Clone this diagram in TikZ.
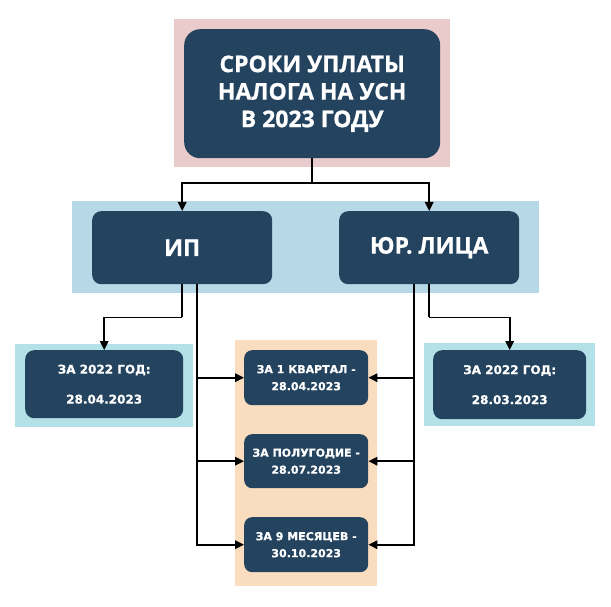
\documentclass[tikz,border=0pt]{standalone}
\usepackage{fontspec}
\setmainfont{DejaVu Sans}[BoldFeatures={FakeBold=0.6}]
\newfontfamily\titlefont{Open Sans}[BoldFeatures={FakeBold=0.8}]
\usetikzlibrary{arrows.meta,positioning}
\definecolor{boxdark}{HTML}{24435F}
\definecolor{pinkband}{HTML}{EACBCB}
\definecolor{blueband}{HTML}{B7D8E6}
\definecolor{cyanband}{HTML}{B4E0E8}
\definecolor{orangeband}{HTML}{FADDBE}
\tikzset{
  band/.style={draw=none, inner sep=0pt, anchor=north west},
  darkbox/.style={fill=boxdark, rounded corners=#1, inner sep=0pt, anchor=north west, text=white, align=center},
  darkbox/.default=9pt,
  conn/.style={draw=black, line width=1.8pt, -{Triangle[length=9pt,width=8.5pt]}},
  plain/.style={draw=black, line width=1.8pt},
  bigtext/.style={font=\titlefont\bfseries\fontsize{23}{27.5}\selectfont},
  sidetext/.style={font=\bfseries\fontsize{12}{15}\selectfont},
  midtext/.style={font=\bfseries\fontsize{11}{17}\selectfont},
}
\begin{document}
\begin{tikzpicture}[x=1pt,y=-1pt]
\useasboundingbox (0,0) rectangle (611,607);
% bands
\node[band, fill=pinkband, minimum width=276pt, minimum height=148pt] (bandtop) at (174,19) {};
\node[band, fill=blueband, minimum width=467pt, minimum height=92pt] (bandmid) at (72,201) {};
\node[band, fill=cyanband, minimum width=178pt, minimum height=83pt] (bandl) at (15,344) {};
\node[band, fill=cyanband, minimum width=171pt, minimum height=83pt] (bandr) at (424,343) {};
\node[band, fill=orangeband, minimum width=142pt, minimum height=246pt] (bando) at (235,340) {};
% boxes
\node[darkbox=16pt, minimum width=256pt, minimum height=129pt, bigtext] (top) at (184,29) {СРОКИ УПЛАТЫ\\НАЛОГА НА УСН\\В 2023 ГОДУ};
\node[darkbox, minimum width=180pt, minimum height=73pt, bigtext] (ip) at (92,211) {ИП};
\node[darkbox, minimum width=180pt, minimum height=73pt, bigtext] (ur) at (339,211) {ЮР. ЛИЦА};
\node[darkbox, minimum width=158pt, minimum height=68pt, sidetext] (l) at (25,350) {ЗА 2022 ГОД:\\[15pt]28.04.2023};
\node[darkbox, minimum width=153pt, minimum height=69pt, sidetext] (r) at (433,350) {ЗА 2022 ГОД:\\[15pt]28.03.2023};
\node[darkbox=8pt, minimum width=124pt, minimum height=55pt, midtext] (m1) at (244,350) {ЗА 1 КВАРТАЛ -\\28.04.2023};
\node[darkbox=8pt, minimum width=124pt, minimum height=54pt, midtext] (m2) at (244,434) {ЗА ПОЛУГОДИЕ -\\28.07.2023};
\node[darkbox=8pt, minimum width=124pt, minimum height=55pt, midtext] (m3) at (244,517) {ЗА 9 МЕСЯЦЕВ -\\30.10.2023};
% connectors
\coordinate (split) at ([yshift=-25pt]top.south);
\draw[plain] (top.south) -- (split);
\draw[conn] (split) -| (ip.north);
\draw[conn] (split) -| (ur.north);
\coordinate (ipa) at ([xshift=15pt]ip.south);
\coordinate (ura) at ([xshift=-15pt]ur.south);
\coordinate (ipl) at ([yshift=-33pt]ip.south);
\coordinate (urr) at ([yshift=-33pt]ur.south);
\draw[plain] (ip.south) -- (ipl);
\draw[conn] (ipl) -| (l.north);
\draw[plain] (ur.south) -- (urr);
\draw[conn] (urr) -| (r.north);
\draw[conn] (ipa) |- (m1.west);
\draw[conn] (ipa) |- (m2.west);
\draw[conn] (ipa) |- (m3.west);
\draw[conn] (ura) |- (m1.east);
\draw[conn] (ura) |- (m2.east);
\draw[conn] (ura) |- (m3.east);
\end{tikzpicture}
\end{document}
